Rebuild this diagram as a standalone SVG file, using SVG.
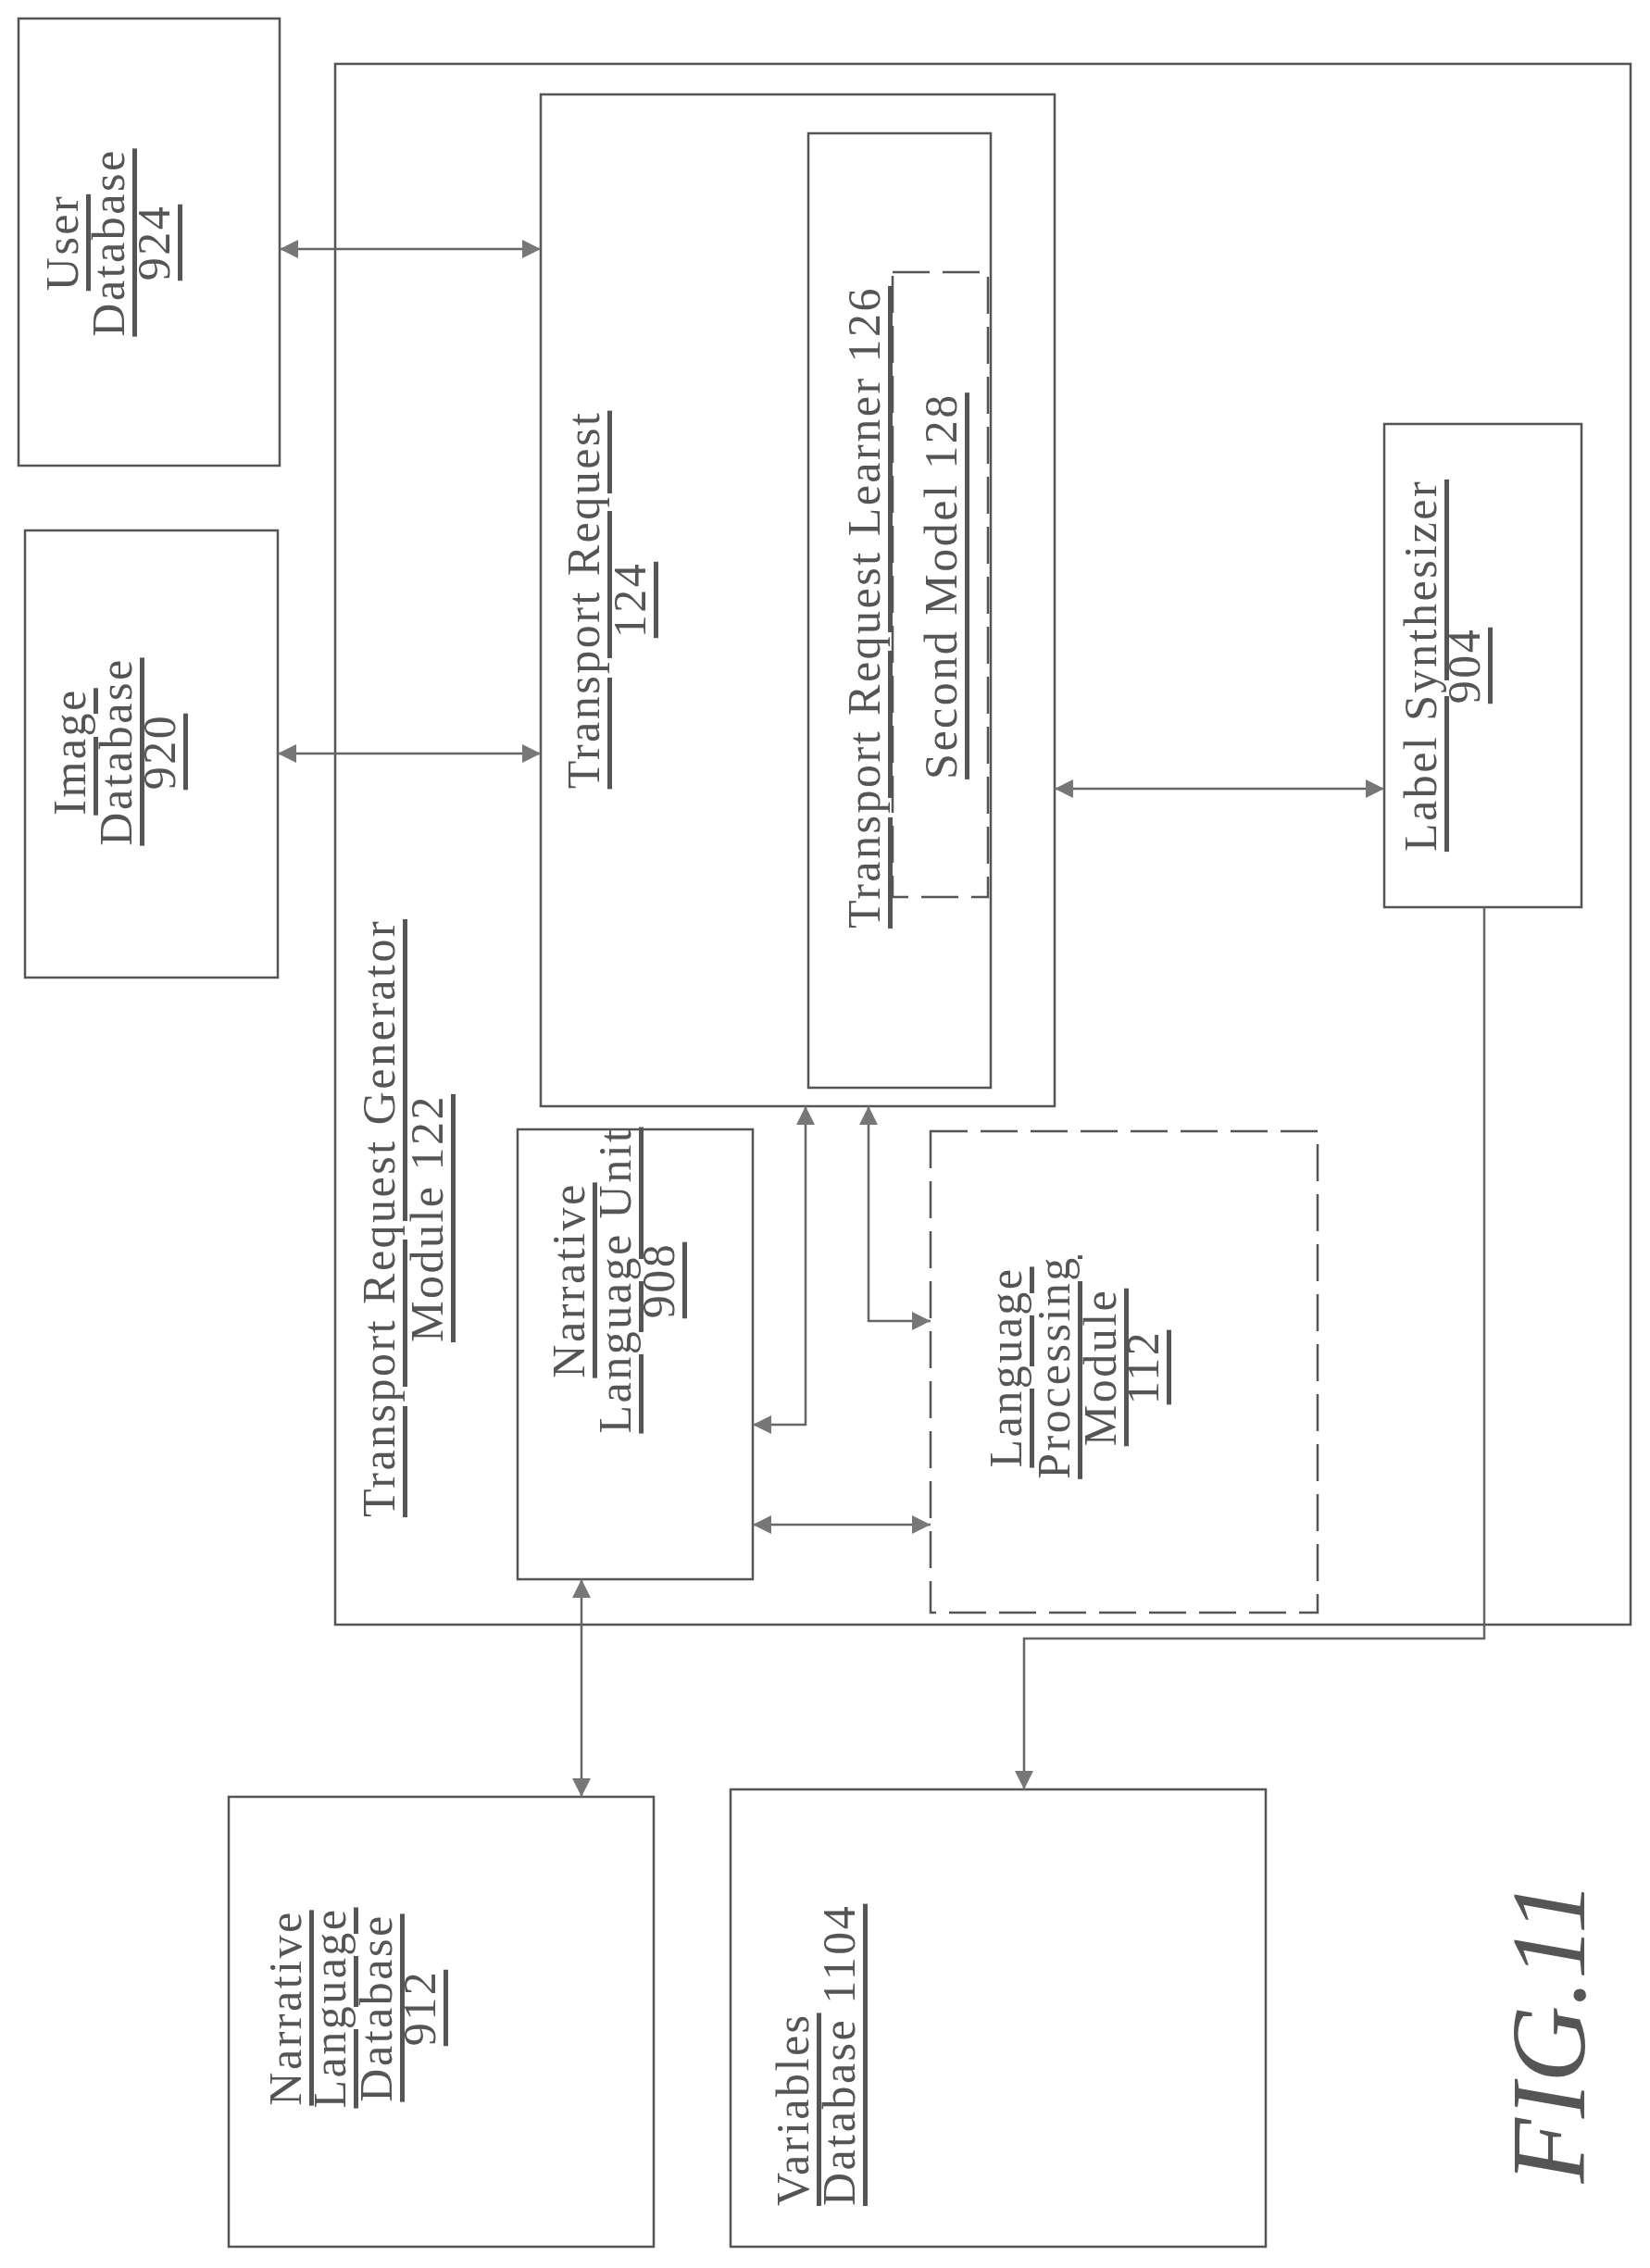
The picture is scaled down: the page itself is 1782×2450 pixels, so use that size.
<svg xmlns="http://www.w3.org/2000/svg" width="1782" height="2450" viewBox="0 0 1782 2450">
<style>
.b{fill:none;stroke:#555;stroke-width:2.5}
.d{fill:none;stroke:#555;stroke-width:2.5;stroke-dasharray:40,14}
.c{fill:none;stroke:#666;stroke-width:2.5}
text{font-family:"Liberation Serif",serif;font-size:50px;letter-spacing:2.5px;fill:#555;text-anchor:middle;dominant-baseline:central;text-decoration:underline}
.f{font-size:115px;font-style:italic;text-decoration:none;letter-spacing:0}
</style>
<defs>
<marker id="a" viewBox="0 0 10 10" refX="10" refY="5" markerWidth="24" markerHeight="20" markerUnits="userSpaceOnUse" orient="auto-start-reverse"><path d="M0,0L10,5L0,10z" fill="#777"/></marker>
</defs>
<rect width="1782" height="2450" fill="#fff"/>
<g id="outer"><rect class="b" x="362" y="69" width="1399" height="1686"/>
<text transform="rotate(-90 409 1316)" x="409" y="1316">Transport Request Generator</text>
<text transform="rotate(-90 461 1316)" x="461" y="1316">Module 122</text></g>
<g id="userdb"><rect class="b" x="20" y="20" width="282" height="483"/>
<text transform="rotate(-90 67 262)" x="67" y="262">User</text>
<text transform="rotate(-90 117 262)" x="117" y="262">Database</text>
<text transform="rotate(-90 166 262)" x="166" y="262">924</text></g>
<g id="imagedb"><rect class="b" x="27" y="573" width="273" height="483"/>
<text transform="rotate(-90 75 812)" x="75" y="812">Image</text>
<text transform="rotate(-90 125 812)" x="125" y="812">Database</text>
<text transform="rotate(-90 172 812)" x="172" y="812">920</text></g>
<g id="tr124"><rect class="b" x="584" y="102" width="555" height="1093"/>
<text transform="rotate(-90 630 648)" x="630" y="648">Transport Request</text>
<text transform="rotate(-90 680 648)" x="680" y="648">124</text></g>
<g id="learner"><rect class="b" x="873" y="144" width="197" height="1031"/>
<text transform="rotate(-90 933 656)" x="933" y="656">Transport Request Learner 126</text></g>
<g id="second"><rect class="d" x="964" y="294" width="103" height="675"/>
<text transform="rotate(-90 1016 633)" x="1016" y="633">Second Model 128</text></g>
<g id="label"><rect class="b" x="1495" y="458" width="213" height="522"/>
<text transform="rotate(-90 1534 719)" x="1534" y="719">Label Synthesizer</text>
<text transform="rotate(-90 1581 719)" x="1581" y="719">904</text></g>
<g id="nlu"><rect class="b" x="559" y="1220" width="254" height="486"/>
<text transform="rotate(-90 614 1383)" x="614" y="1383">Narrative</text>
<text transform="rotate(-90 664 1383)" x="664" y="1383">Language Unit</text>
<text transform="rotate(-90 711 1383)" x="711" y="1383">908</text></g>
<g id="lpm"><rect class="d" x="1005" y="1222" width="418" height="520"/>
<text transform="rotate(-90 1086 1477)" x="1086" y="1477">Language</text>
<text transform="rotate(-90 1138 1477)" x="1138" y="1477">Processing</text>
<text transform="rotate(-90 1188 1477)" x="1188" y="1477">Module</text>
<text transform="rotate(-90 1234 1477)" x="1234" y="1477">112</text></g>
<g id="nldb"><rect class="b" x="247" y="1941" width="459" height="486"/>
<text transform="rotate(-90 308 2169)" x="308" y="2169">Narrative</text>
<text transform="rotate(-90 356 2169)" x="356" y="2169">Language</text>
<text transform="rotate(-90 406 2169)" x="406" y="2169">Database</text>
<text transform="rotate(-90 453 2169)" x="453" y="2169">912</text></g>
<g id="vardb"><rect class="b" x="789" y="1933" width="578" height="494"/>
<text transform="rotate(-90 856 2383)" x="856" y="2383" style="text-anchor:start">Variables</text>
<text transform="rotate(-90 906 2383)" x="906" y="2383" style="text-anchor:start">Database 1104</text></g>
<g id="connectors">
<path class="c" d="M302,269H584" marker-start="url(#a)" marker-end="url(#a)"/>
<path class="c" d="M300,814H584" marker-start="url(#a)" marker-end="url(#a)"/>
<path class="c" d="M1139,852H1495" marker-start="url(#a)" marker-end="url(#a)"/>
<path class="c" d="M628,1706V1941" marker-start="url(#a)" marker-end="url(#a)"/>
<path class="c" d="M1603,980V1770H1106V1933" marker-end="url(#a)"/>
<path class="c" d="M870,1195V1539H813" marker-start="url(#a)" marker-end="url(#a)"/>
<path class="c" d="M938,1195V1427H1005" marker-start="url(#a)" marker-end="url(#a)"/>
<path class="c" d="M813,1647H1005" marker-start="url(#a)" marker-end="url(#a)"/>
</g>
<text class="f" transform="rotate(-90 1672 2195)" x="1672" y="2195">FIG.11</text>
</svg>
